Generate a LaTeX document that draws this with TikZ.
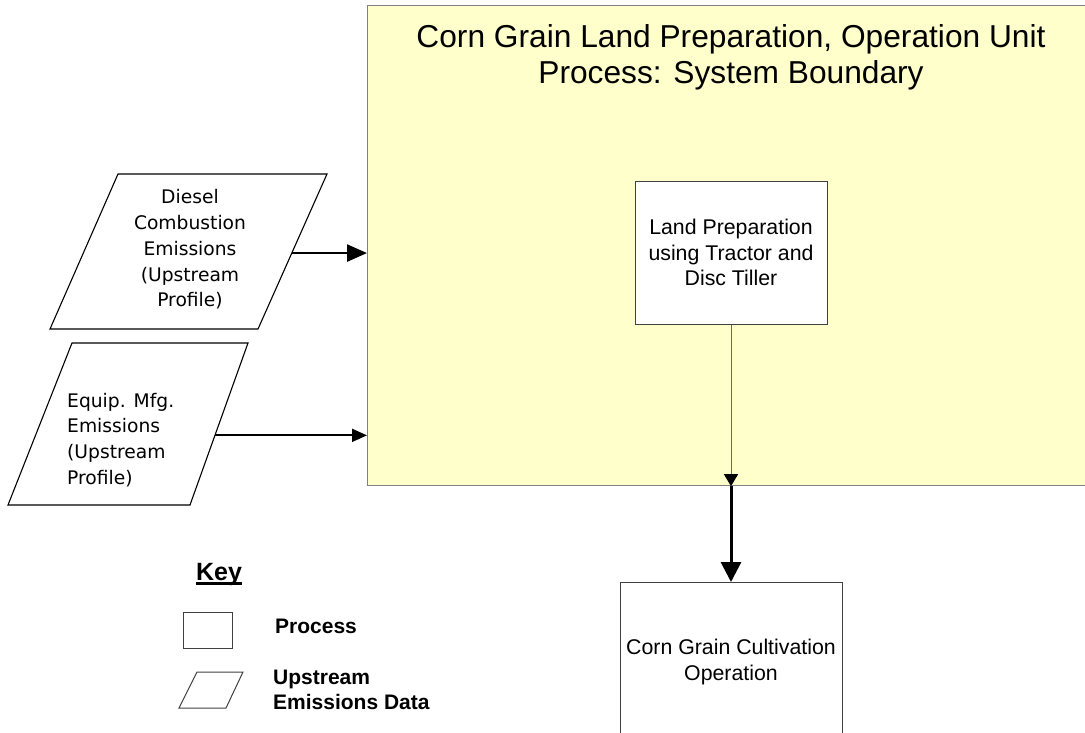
\documentclass[tikz,border=0pt]{standalone}
\usepackage{fontspec}
\setmainfont{Liberation Sans}
\newfontfamily\tahoma{DejaVu Sans}
\usetikzlibrary{arrows.meta,calc}
\definecolor{boundfill}{HTML}{FFFFCC}
\definecolor{boundline}{HTML}{808080}
\definecolor{boxline}{HTML}{404040}
\definecolor{thinline}{HTML}{6E6E60}
\newcommand\keyunder[1]{\setbox0\hbox{#1}\rlap{\rule[-4.5pt]{\wd0}{2.4pt}}\box0}
\begin{document}
\begin{tikzpicture}[x=1pt,y=-1pt,
  procbox/.style={draw=boxline, line width=1pt, fill=white, inner sep=0pt, align=center,
    font=\fontsize{21.3}{25.5}\selectfont},
  paraline/.style={draw=black, line width=1.1pt, line join=miter},
  paratext/.style={inner sep=0pt, font=\tahoma\fontsize{18.7}{25.8}\selectfont},
  thickarr/.style={line width=2.6pt, -{Triangle[length=20pt,width=17pt]}},
  midarr/.style={line width=1.8pt, -{Triangle[length=15pt,width=13pt]}},
  vertarr/.style={line width=3pt, -{Triangle[length=20pt,width=20pt]}},
  thinarr/.style={draw=thinline, line width=1pt, -{Triangle[length=12pt,width=14pt,color=black]}},
  keytext/.style={inner sep=0pt, font=\bfseries\fontsize{21}{25}\selectfont, align=left}
]
\useasboundingbox (0,0) rectangle (1085,732);

% system boundary
\node[draw=boundline, line width=1.2pt, fill=boundfill, inner sep=0pt,
      minimum width=730pt, minimum height=480pt, anchor=north west] (boundary) at (367,5) {};
\node[inner sep=0pt, align=center, font=\fontsize{31.7}{36}\selectfont] (title) at (731,57)
  {Corn Grain Land Preparation, Operation Unit\\Process: System Boundary};

% inner process
\node[procbox, minimum width=192pt, minimum height=143pt] (inner) at (731,252.5)
  {Land Preparation\\using Tractor and\\Disc Tiller};

% downstream process
\node[procbox, minimum width=222pt, minimum height=159pt, anchor=north] (corn) at (731,582)
  {Corn Grain Cultivation\\Operation};

% diesel parallelogram
\coordinate (d1) at (118,174);
\coordinate (d2) at (327,174);
\coordinate (d3) at (258,329);
\coordinate (d4) at (50,329);
\draw[paraline] (d1) -- (d2) -- (d3) -- (d4) -- cycle;
\node[paratext, align=center] (diesel) at (190,249.5)
  {Diesel\\Combustion\\Emissions\\(Upstream\\Profile)};
\coordinate (dout) at ($(d2)!0.51!(d3)$);

% equipment parallelogram
\coordinate (e1) at (72,343);
\coordinate (e2) at (248,343);
\coordinate (e3) at (190,505);
\coordinate (e4) at (8,505);
\draw[paraline] (e1) -- (e2) -- (e3) -- (e4) -- cycle;
\node[paratext, align=left, anchor=west] (equip) at (67,440)
  {Equip. Mfg.\\Emissions\\(Upstream\\Profile)};
\coordinate (eout) at ($(e2)!0.57!(e3)$);

% connectors
\draw[thickarr] (dout) -- (dout -| boundary.west);
\draw[midarr] (eout) -- (eout -| boundary.west);
\draw[thinarr] (inner.south) -- (inner.south |- boundary.south);
\draw[vertarr] (inner.south |- boundary.south) -- (corn.north);

% key
\node[inner sep=0pt, font=\bfseries\fontsize{25}{30}\selectfont, anchor=base] (key) at (219,580)
  {\keyunder{Key}};
\node[draw=boxline, line width=1pt, minimum width=49pt, minimum height=36pt, inner sep=0pt,
      anchor=north west] (keyproc) at (183,612) {};
\node[keytext, anchor=west] (keyproclabel) at (275,626) {Process};
\coordinate (k1) at (197,672);
\coordinate (k2) at (243,672);
\coordinate (k3) at (226,708);
\coordinate (k4) at (179,708);
\draw[draw=boxline, line width=1pt] (k1) -- (k2) -- (k3) -- (k4) -- cycle;
\node[keytext, anchor=west] (keyparalabel) at (273,689.5) {Upstream\\Emissions Data};
\end{tikzpicture}
\end{document}
